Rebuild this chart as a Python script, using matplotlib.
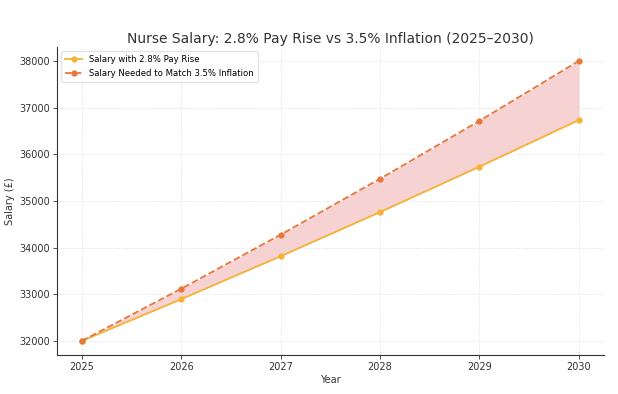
import matplotlib
matplotlib.use("Agg")
import matplotlib.pyplot as plt

years = [2025, 2026, 2027, 2028, 2029, 2030]
pay_rise = [32000, 32896, 33817, 34764, 35737, 36738]
inflation = [32000, 33120, 34279, 35479, 36721, 38006]

fig = plt.figure(figsize=(6.18, 3.94), dpi=100)
ax = fig.add_axes([0.092, 0.099, 0.885, 0.782])

ax.plot(years, pay_rise, color="#f5b335", marker="o", markersize=3.5, linewidth=1.3,
        label="Salary with 2.8% Pay Rise")
ax.plot(years, inflation, color="#e8773a", marker="o", markersize=3.5, linewidth=1.3,
        linestyle="--", label="Salary Needed to Match 3.5% Inflation")
ax.fill_between(years, pay_rise, inflation, color="#eb8f8f", alpha=0.4, linewidth=0)

ax.set_title("Nurse Salary: 2.8% Pay Rise vs 3.5% Inflation (2025\u20132030)",
             fontsize=10, color="#333333", pad=3)
ax.set_xlabel("Year", fontsize=7, color="#333333", labelpad=2)
ax.set_ylabel("Salary (\u00a3)", fontsize=7, color="#333333", labelpad=3)
ax.set_xticks(years)
ax.tick_params(labelsize=7, colors="#333333", length=3, width=0.6, pad=2)
ax.grid(True, linestyle=(0, (2, 2)), linewidth=0.5, color="#dddddd")
for s in ["top", "right"]:
    ax.spines[s].set_visible(False)
for s in ["left", "bottom"]:
    ax.spines[s].set_color("#333333")
    ax.spines[s].set_linewidth(0.8)
ax.legend(loc="upper left", fontsize=6.1, frameon=True, edgecolor="#dddddd",
          handlelength=2, borderpad=0.5)

fig.savefig("out.png", dpi=100)
